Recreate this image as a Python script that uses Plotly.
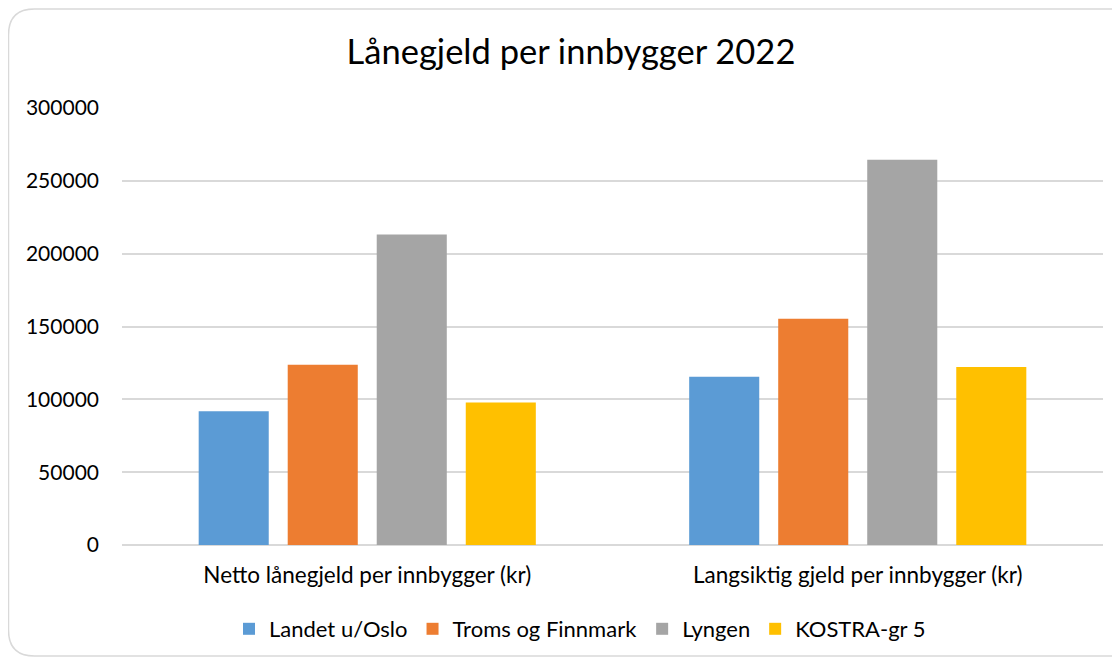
import plotly.graph_objects as go

categories = ["Netto lånegjeld per innbygger (kr)", "Langsiktig gjeld per innbygger (kr)"]
series_names = ["Landet u/Oslo", "Troms og Finnmark", "Lyngen", "KOSTRA-gr 5"]
landet = [91900, 115500]
troms = [123800, 155400]
lyngen = [213100, 264500]
kostra = [97900, 122200]
colors = ["#5B9BD5", "#ED7D31", "#A5A5A5", "#FFC000"]
y_ticks = [0, 50000, 100000, 150000, 200000, 250000, 300000]

OFF = 8  # page body margin
W, H = 1112, 650
L, T = 122 - OFF, 108 - OFF
PW, PH = 981, 437
R = W - L - PW
B = H - T - PH
FONT = "Lato"

def px(x):  # page pixel x -> paper
    return (x - OFF - L) / PW

def py(y):  # page pixel y -> paper
    return (T + PH - (y - OFF)) / PH

fig = go.Figure()
for name, vals, col in zip(series_names, [landet, troms, lyngen, kostra], colors):
    fig.add_trace(go.Bar(x=categories, y=vals, name=name, marker=dict(color=col, line=dict(width=0))))

# rounded chart border (right edge lies outside the visible page)
x0, x1, y0, y1, r = 8.5, 1142, 9, 656, 26
path = (f"M {px(x1)},{py(y0)} L {px(x0+r)},{py(y0)} "
        f"Q {px(x0)},{py(y0)} {px(x0)},{py(y0+r)} "
        f"L {px(x0)},{py(y1-r)} Q {px(x0)},{py(y1)} {px(x0+r)},{py(y1)} "
        f"L {px(x1)},{py(y1)}")
fig.add_shape(type="path", path=path, xref="paper", yref="paper",
              line=dict(color="#D9D9D9", width=1.5), fillcolor="rgba(0,0,0,0)", layer="below")

fig.update_layout(
    width=W, height=H,
    margin=dict(l=L, r=R, t=T, b=B, autoexpand=False),
    paper_bgcolor="white", plot_bgcolor="white",
    barmode="group", bargap=0.274, bargroupgap=0.213,
    font=dict(family=FONT, size=22, color="#000000"),
    title=dict(text="Lånegjeld per innbygger 2022", xref="container", x=(571 - OFF) / W, xanchor="center",
               yref="container", y=1 - (52 - OFF) / H, yanchor="middle",
               font=dict(family=FONT, size=34.5, color="#000000")),
    legend=dict(orientation="h", x=px(580), xanchor="center", y=py(629), yanchor="middle",
                font=dict(family=FONT, size=22, color="#000000"), itemwidth=30,
                traceorder="normal", bgcolor="rgba(0,0,0,0)"),
    showlegend=True,
)
fig.update_xaxes(showgrid=False, showline=False, zeroline=False, ticks="",
                 tickfont=dict(family=FONT, size=22.5, color="#000000"), ticklabelstandoff=14,
                 range=[-0.5, 1.5], fixedrange=True)
fig.update_yaxes(range=[0, 300000], tickvals=y_ticks, ticktext=[str(v) for v in y_ticks],
                 showgrid=True, gridcolor="#D9D9D9", gridwidth=1.5,
                 zeroline=True, zerolinecolor="#D9D9D9", zerolinewidth=1.5,
                 showline=False, ticks="", ticklabelstandoff=22,
                 tickfont=dict(family=FONT, size=21, color="#000000"), fixedrange=True)

fig.write_html("out.html")
